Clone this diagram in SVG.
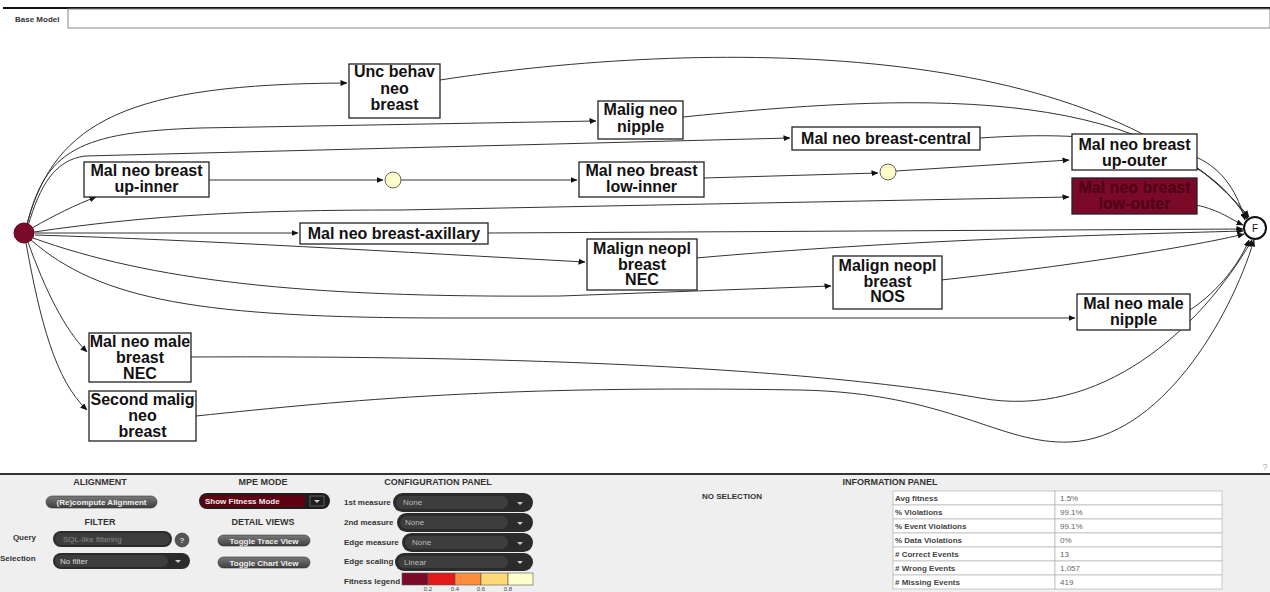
<svg xmlns="http://www.w3.org/2000/svg" width="1270" height="592" viewBox="0 0 1270 592">
<defs>
<marker id="ah" markerWidth="7" markerHeight="6" refX="6.5" refY="3" orient="auto" markerUnits="userSpaceOnUse"><path d="M0,0 L7,3 L0,6 z" fill="#111"/></marker>
<linearGradient id="btn" x1="0" y1="0" x2="0" y2="1"><stop offset="0" stop-color="#7a7a7a"/><stop offset="1" stop-color="#3e3e3e"/></linearGradient>
</defs>
<style>
.n rect{fill:#fff;stroke:#222;stroke-width:1.3}
.n text{font-family:"Liberation Sans",Arial,sans-serif;font-weight:bold;font-size:16px;fill:#111;text-anchor:middle}
.e path{fill:none;stroke:#333;stroke-width:1;marker-end:url(#ah)}
.h{font-family:"Liberation Sans",Arial,sans-serif;font-weight:bold;font-size:9px;fill:#333;text-anchor:middle}
.l{font-family:"Liberation Sans",Arial,sans-serif;font-weight:bold;font-size:8px;fill:#333}
.bt{font-family:"Liberation Sans",Arial,sans-serif;font-weight:bold;font-size:8px;fill:#eee;text-anchor:middle}
.dd{fill:#2b2b2b}
.ddi{fill:#3d3d3d}
.dt{font-family:"Liberation Sans",Arial,sans-serif;font-size:8px;fill:#bbb}
.tk{font-family:"Liberation Sans",Arial,sans-serif;font-weight:bold;font-size:8px;fill:#444}
.tv{font-family:"Liberation Sans",Arial,sans-serif;font-size:8px;fill:#666}
.tb{fill:#fff;stroke:#bbb;stroke-width:0.8}
</style>
<rect width="1270" height="592" fill="#fff"/>
<!-- tab bar -->
<line x1="3" y1="8" x2="1270" y2="8" stroke="#111" stroke-width="2"/>
<rect x="68" y="9" width="1202" height="19" fill="#fff" stroke="#888" stroke-width="1"/>
<text x="15" y="22" font-family="Liberation Sans, Arial, sans-serif" font-size="8" font-weight="bold" fill="#333">Base Model</text>

<g class="e" id="connectors">
<path d="M27,224 C55,120 130,84 347,83"/>
<path d="M27,225 C45,150 80,132 200,128 L596,121"/>
<path d="M28,226 C40,185 55,160 85,156 L790,138"/>
<path d="M32,228 C55,215 75,205 96,197"/>
<path d="M34,232 C150,215 250,210 400,210 L1069,197"/>
<path d="M35,233 L298,233"/>
<path d="M35,235 C200,240 400,252 585,262"/>
<path d="M33,238 C150,280 300,298 560,296 L831,286"/>
<path d="M31,240 C100,300 200,318 450,318 L1075,318"/>
<path d="M28,242 C45,290 65,330 87,352"/>
<path d="M26,243 C40,320 55,380 87,410"/>
<path d="M209,180 L383,180"/>
<path d="M401,180 L577,180"/>
<path d="M704,178 L878,173"/>
<path d="M896,171 L1069,160"/>
<path d="M440,80 C700,40 1100,35 1249,217"/>
<path d="M683,117 C900,95 1150,80 1248,218"/>
<path d="M980,138 C1100,130 1200,140 1247,219"/>
<path d="M1196,157 C1225,170 1238,195 1245,220"/>
<path d="M1196,205 C1220,210 1232,220 1243,225"/>
<path d="M488,233 L1243,229"/>
<path d="M696,258 C900,240 1100,235 1243,231"/>
<path d="M941,280 C1080,265 1200,245 1244,234"/>
<path d="M1190,310 C1220,290 1240,262 1249,240"/>
<path d="M191,357 C600,355 850,375 980,398 C1100,420 1200,330 1252,240"/>
<path d="M196,416 C350,400 500,385 800,390 C950,393 1000,445 1070,442 C1160,438 1230,320 1254,240"/>
</g>

<g id="start"><circle cx="24" cy="233" r="10" fill="#7b0a28" stroke="#5a0018"/></g>
<g id="end"><circle cx="1255" cy="228" r="11" fill="#fff" stroke="#111" stroke-width="2"/><text x="1255" y="232" font-family="Liberation Sans, Arial, sans-serif" font-size="10" text-anchor="middle" fill="#111">F</text></g>

<g class="n" id="unc"><rect x="349" y="64" width="91" height="54"/><text x="394.5" y="77">Unc behav</text><text x="394.5" y="94">neo</text><text x="394.5" y="110">breast</text></g>
<g class="n" id="malignipple"><rect x="598" y="101" width="85" height="38"/><text x="640.5" y="115">Malig neo</text><text x="640.5" y="132">nipple</text></g>
<g class="n" id="central"><rect x="792" y="127" width="188" height="23"/><text x="886" y="144">Mal neo breast-central</text></g>
<g class="n" id="upinner"><rect x="84" y="162" width="125" height="35"/><text x="146.5" y="176">Mal neo breast</text><text x="146.5" y="192">up-inner</text></g>
<g id="c1"><circle cx="393" cy="180" r="8" fill="#ffffcc" stroke="#666"/></g>
<g class="n" id="lowinner"><rect x="579" y="162" width="125" height="35"/><text x="641.5" y="176">Mal neo breast</text><text x="641.5" y="192">low-inner</text></g>
<g id="c2"><circle cx="888" cy="172" r="8" fill="#ffffcc" stroke="#666"/></g>
<g class="n" id="upouter"><rect x="1072" y="134" width="125" height="36"/><text x="1134.5" y="150">Mal neo breast</text><text x="1134.5" y="166">up-outer</text></g>
<g class="n" id="lowouter"><rect x="1072" y="178" width="125" height="36" style="fill:#7b0a28"/><text x="1134.5" y="193" style="fill:#4e0016">Mal neo breast</text><text x="1134.5" y="209" style="fill:#4e0016">low-outer</text></g>
<g class="n" id="axillary"><rect x="300" y="223" width="188" height="21"/><text x="394" y="239">Mal neo breast-axillary</text></g>
<g class="n" id="nec"><rect x="587" y="239" width="110" height="51"/><text x="642" y="254">Malign neopl</text><text x="642" y="270">breast</text><text x="642" y="285">NEC</text></g>
<g class="n" id="nos"><rect x="833" y="256" width="109" height="53"/><text x="887.5" y="271">Malign neopl</text><text x="887.5" y="287">breast</text><text x="887.5" y="302">NOS</text></g>
<g class="n" id="malenipple"><rect x="1077" y="294" width="113" height="36"/><text x="1133.5" y="309">Mal neo male</text><text x="1133.5" y="325">nipple</text></g>
<g class="n" id="malebreast"><rect x="89" y="333" width="102" height="49"/><text x="140" y="347">Mal neo male</text><text x="140" y="363">breast</text><text x="140" y="379">NEC</text></g>
<g class="n" id="second"><rect x="89" y="391" width="107" height="50"/><text x="142.5" y="405">Second malig</text><text x="142.5" y="421">neo</text><text x="142.5" y="437">breast</text></g>

<!-- bottom panel -->
<rect x="0" y="475" width="1270" height="117" fill="#efefef"/>
<line x1="0" y1="474" x2="1270" y2="474" stroke="#333" stroke-width="2"/>
<text x="1265" y="470" font-family="Liberation Sans, Arial, sans-serif" font-size="9" fill="#aaa" text-anchor="middle">?</text>

<text class="h" x="100" y="485">ALIGNMENT</text>
<rect x="46" y="496" width="111" height="12" rx="6" fill="url(#btn)" stroke="#333" stroke-width="0.6"/>
<text class="bt" x="101.5" y="505">(Re)compute Alignment</text>
<text class="h" x="100" y="525">FILTER</text>
<text class="l" x="36" y="540" text-anchor="end">Query</text>
<rect x="53" y="531" width="119" height="16" rx="8" fill="#2b2b2b"/>
<rect x="55" y="533" width="115" height="12" rx="6" fill="#3d3d3d"/>
<text class="dt" x="63" y="542" style="fill:#888">SQL-like filtering</text>
<circle cx="182" cy="540" r="7" fill="#555" stroke="#333" stroke-width="0.6"/>
<text x="182" y="543" font-family="Liberation Sans, Arial, sans-serif" font-size="8" font-weight="bold" fill="#ddd" text-anchor="middle">?</text>
<text class="l" x="0" y="561">Selection</text>
<rect x="53" y="553" width="137" height="16" rx="8" fill="#2b2b2b"/>
<rect x="55" y="555" width="113" height="12" rx="6" fill="#3d3d3d"/>
<text class="dt" x="60" y="564" style="fill:#ddd">No filter</text>
<path d="M175,560 L181,560 L178,563 z" fill="#ccc"/>

<text class="h" x="263" y="485">MPE MODE</text>
<rect x="199" y="493" width="131" height="16" rx="8" fill="#1e1e1e"/>
<rect x="201" y="495" width="104" height="12" rx="3" fill="#5c0012"/>
<text x="205" y="504" font-family="Liberation Sans, Arial, sans-serif" font-size="8" font-weight="bold" fill="#eee">Show Fitness Mode</text>
<rect x="310" y="496" width="14" height="10" fill="none" stroke="#888" stroke-width="0.6"/>
<path d="M314,500 L320,500 L317,503 z" fill="#ccc"/>
<text class="h" x="263" y="525">DETAIL VIEWS</text>
<rect x="218" y="535" width="92" height="11" rx="5.5" fill="url(#btn)" stroke="#333" stroke-width="0.6"/>
<text class="bt" x="264" y="543.5">Toggle Trace View</text>
<rect x="218" y="557" width="92" height="11" rx="5.5" fill="url(#btn)" stroke="#333" stroke-width="0.6"/>
<text class="bt" x="264" y="565.5">Toggle Chart View</text>

<text class="h" x="438" y="485">CONFIGURATION PANEL</text>
<text class="l" x="344" y="505">1st measure</text>
<rect x="393" y="493" width="140" height="19" rx="9.5" class="dd"/>
<rect x="396" y="496" width="112" height="13" rx="6.5" class="ddi"/>
<text class="dt" x="403" y="505">None</text>
<path d="M517,502 L523,502 L520,505 z" fill="#ccc"/>
<text class="l" x="344" y="525">2nd measure</text>
<rect x="397" y="513" width="136" height="19" rx="9.5" class="dd"/>
<rect x="400" y="516" width="108" height="13" rx="6.5" class="ddi"/>
<text class="dt" x="405" y="525">None</text>
<path d="M517,522 L523,522 L520,525 z" fill="#ccc"/>
<text class="l" x="344" y="545">Edge measure</text>
<rect x="402" y="533" width="131" height="19" rx="9.5" class="dd"/>
<rect x="405" y="536" width="103" height="13" rx="6.5" class="ddi"/>
<text class="dt" x="412" y="545">None</text>
<path d="M517,542 L523,542 L520,545 z" fill="#ccc"/>
<text class="l" x="344" y="564">Edge scaling</text>
<rect x="395" y="553" width="138" height="18" rx="9" class="dd"/>
<rect x="398" y="556" width="110" height="12" rx="6" class="ddi"/>
<text class="dt" x="404" y="565">Linear</text>
<path d="M517,561 L523,561 L520,564 z" fill="#ccc"/>
<text class="l" x="344" y="584">Fitness legend</text>
<g stroke="#555" stroke-width="0.6">
<rect x="402" y="573" width="26" height="12" fill="#7b0a28"/>
<rect x="428" y="573" width="27" height="12" fill="#e31a1c"/>
<rect x="455" y="573" width="26" height="12" fill="#fd8d3c"/>
<rect x="481" y="573" width="27" height="12" fill="#fed976"/>
<rect x="508" y="573" width="25" height="12" fill="#ffffcc"/>
</g>
<g font-family="Liberation Sans, Arial, sans-serif" font-size="6" fill="#444" text-anchor="middle">
<text x="428" y="591">0.2</text><text x="455" y="591">0.4</text><text x="481" y="591">0.6</text><text x="508" y="591">0.8</text>
</g>

<text class="h" x="890" y="485">INFORMATION PANEL</text>
<text class="l" x="702" y="499">NO SELECTION</text>
<g>
<rect class="tb" x="893" y="491" width="162" height="14"/><rect class="tb" x="1055" y="491" width="167" height="14"/>
<rect class="tb" x="893" y="505" width="162" height="14"/><rect class="tb" x="1055" y="505" width="167" height="14"/>
<rect class="tb" x="893" y="519" width="162" height="14"/><rect class="tb" x="1055" y="519" width="167" height="14"/>
<rect class="tb" x="893" y="533" width="162" height="14"/><rect class="tb" x="1055" y="533" width="167" height="14"/>
<rect class="tb" x="893" y="547" width="162" height="14"/><rect class="tb" x="1055" y="547" width="167" height="14"/>
<rect class="tb" x="893" y="561" width="162" height="14"/><rect class="tb" x="1055" y="561" width="167" height="14"/>
<rect class="tb" x="893" y="575" width="162" height="14"/><rect class="tb" x="1055" y="575" width="167" height="14"/>
</g>
<text class="tk" x="895" y="501">Avg fitness</text><text class="tv" x="1060" y="501">1.5%</text>
<text class="tk" x="895" y="515">% Violations</text><text class="tv" x="1060" y="515">99.1%</text>
<text class="tk" x="895" y="529">% Event Violations</text><text class="tv" x="1060" y="529">99.1%</text>
<text class="tk" x="895" y="543">% Data Violations</text><text class="tv" x="1060" y="543">0%</text>
<text class="tk" x="895" y="557"># Correct Events</text><text class="tv" x="1060" y="557">13</text>
<text class="tk" x="895" y="571"># Wrong Events</text><text class="tv" x="1060" y="571">1,057</text>
<text class="tk" x="895" y="585"># Missing Events</text><text class="tv" x="1060" y="585">419</text>
</svg>
